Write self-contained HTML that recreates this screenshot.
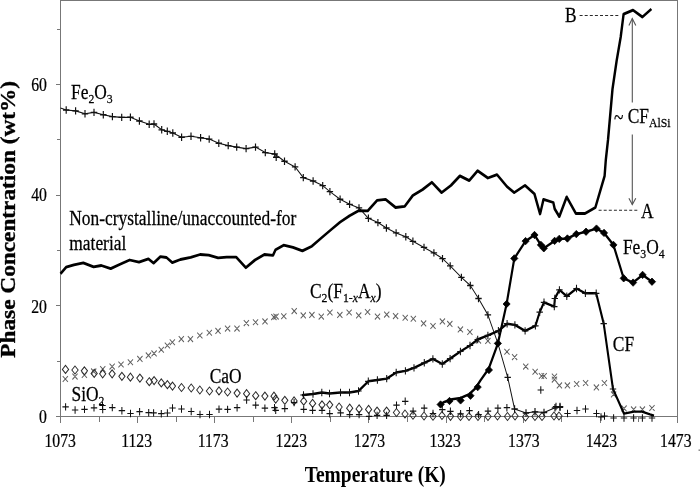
<!DOCTYPE html><html><head><meta charset="utf-8"><title>Phase Concentration vs Temperature</title><style>
html,body{margin:0;padding:0;background:#fff;width:700px;height:488px;overflow:hidden}
svg{display:block;filter:grayscale(1) blur(0.35px)}
text{font-family:"Liberation Serif","Times New Roman",serif;fill:#000}
.t{font-size:18.5px}.l{font-size:20px}.t,.l{stroke:#000;stroke-width:0.25px}.b{font-weight:bold;font-size:22px}
</style></head><body>
<svg width="700" height="488" viewBox="0 0 700 488">
<rect width="700" height="488" fill="#fff"/>
<g stroke="#777" stroke-width="1" fill="none" shape-rendering="crispEdges">
<path d="M60.5 0.5H677.5V416.5H60.5Z"/>
<path d="M56.0 416.5H60.5M57.0 361.5H60.5M56.0 305.5H60.5M57.0 250.5H60.5M56.0 195.5H60.5M57.0 139.5H60.5M56.0 84.5H60.5M57.0 29.5H60.5M60.5 416.5V423.0M99.5 416.5V421.5M137.5 416.5V423.0M176.5 416.5V421.5M214.5 416.5V423.0M253.5 416.5V421.5M291.5 416.5V423.0M330.5 416.5V421.5M368.5 416.5V423.0M407.5 416.5V421.5M446.5 416.5V423.0M484.5 416.5V421.5M523.5 416.5V423.0M561.5 416.5V421.5M600.5 416.5V423.0M638.5 416.5V421.5M677.5 416.5V423.0"/>
</g>
<g transform="scale(0.87,1)">
<path fill="none" stroke="#606060" stroke-width="1.05" d="M72.1 376.1l6.0 5.8M72.1 381.9l6.0 -5.8M83.2 373.7l6.0 5.8M83.2 379.5l6.0 -5.8M94.0 372.1l6.0 5.8M94.0 377.9l6.0 -5.8M104.7 368.5l6.0 5.8M104.7 374.3l6.0 -5.8M115.1 366.2l6.0 5.8M115.1 372.0l6.0 -5.8M125.9 363.7l6.0 5.8M125.9 369.5l6.0 -5.8M136.1 361.6l6.0 5.8M136.1 367.4l6.0 -5.8M146.9 359.4l6.0 5.8M146.9 365.2l6.0 -5.8M157.8 356.0l6.0 5.8M157.8 361.8l6.0 -5.8M167.6 352.5l6.0 5.8M167.6 358.3l6.0 -5.8M174.1 350.5l6.0 5.8M174.1 356.3l6.0 -5.8M182.4 346.9l6.0 5.8M182.4 352.7l6.0 -5.8M189.4 342.6l6.0 5.8M189.4 348.4l6.0 -5.8M195.1 339.4l6.0 5.8M195.1 345.2l6.0 -5.8M205.4 336.2l6.0 5.8M205.4 342.0l6.0 -5.8M215.9 336.2l6.0 5.8M215.9 342.0l6.0 -5.8M226.7 332.6l6.0 5.8M226.7 338.4l6.0 -5.8M237.6 329.9l6.0 5.8M237.6 335.7l6.0 -5.8M247.6 328.0l6.0 5.8M247.6 333.8l6.0 -5.8M258.6 325.7l6.0 5.8M258.6 331.5l6.0 -5.8M269.4 325.7l6.0 5.8M269.4 331.5l6.0 -5.8M280.2 320.2l6.0 5.8M280.2 326.0l6.0 -5.8M290.7 319.4l6.0 5.8M290.7 325.2l6.0 -5.8M301.6 318.5l6.0 5.8M301.6 324.3l6.0 -5.8M311.8 314.2l6.0 5.8M311.8 320.0l6.0 -5.8M314.3 313.7l6.0 5.8M314.3 319.5l6.0 -5.8M323.2 313.4l6.0 5.8M323.2 319.2l6.0 -5.8M335.2 308.2l6.0 5.8M335.2 314.0l6.0 -5.8M345.6 312.5l6.0 5.8M345.6 318.3l6.0 -5.8M355.5 312.0l6.0 5.8M355.5 317.8l6.0 -5.8M366.3 313.7l6.0 5.8M366.3 319.5l6.0 -5.8M376.2 309.6l6.0 5.8M376.2 315.4l6.0 -5.8M387.6 312.0l6.0 5.8M387.6 317.8l6.0 -5.8M398.3 309.6l6.0 5.8M398.3 315.4l6.0 -5.8M409.3 312.5l6.0 5.8M409.3 318.3l6.0 -5.8M419.5 309.1l6.0 5.8M419.5 314.9l6.0 -5.8M430.9 313.7l6.0 5.8M430.9 319.5l6.0 -5.8M441.5 311.7l6.0 5.8M441.5 317.5l6.0 -5.8M451.7 313.2l6.0 5.8M451.7 319.0l6.0 -5.8M462.8 314.9l6.0 5.8M462.8 320.7l6.0 -5.8M472.1 315.9l6.0 5.8M472.1 321.7l6.0 -5.8M483.9 320.5l6.0 5.8M483.9 326.3l6.0 -5.8M494.7 323.1l6.0 5.8M494.7 328.9l6.0 -5.8M505.5 318.5l6.0 5.8M505.5 324.3l6.0 -5.8M514.0 321.0l6.0 5.8M514.0 326.8l6.0 -5.8M526.2 326.5l6.0 5.8M526.2 332.3l6.0 -5.8M537.1 329.1l6.0 5.8M537.1 334.9l6.0 -5.8M546.9 337.7l6.0 5.8M546.9 343.5l6.0 -5.8M557.8 338.0l6.0 5.8M557.8 343.8l6.0 -5.8M579.7 348.8l6.0 5.8M579.7 354.6l6.0 -5.8M588.5 354.2l6.0 5.8M588.5 360.0l6.0 -5.8M601.3 363.7l6.0 5.8M601.3 369.5l6.0 -5.8M612.1 368.8l6.0 5.8M612.1 374.6l6.0 -5.8M619.4 373.1l6.0 5.8M619.4 378.9l6.0 -5.8M622.5 373.1l6.0 5.8M622.5 378.9l6.0 -5.8M634.3 373.6l6.0 5.8M634.3 379.4l6.0 -5.8M634.3 376.7l6.0 5.8M634.3 382.5l6.0 -5.8M640.0 382.5l6.0 5.8M640.0 388.3l6.0 -5.8M649.2 382.5l6.0 5.8M649.2 388.3l6.0 -5.8M659.8 381.1l6.0 5.8M659.8 386.9l6.0 -5.8M670.1 380.1l6.0 5.8M670.1 385.9l6.0 -5.8M682.5 384.5l6.0 5.8M682.5 390.3l6.0 -5.8M691.7 380.1l6.0 5.8M691.7 385.9l6.0 -5.8M702.3 391.5l6.0 5.8M702.3 397.3l6.0 -5.8M714.3 405.5l6.0 5.8M714.3 411.3l6.0 -5.8M725.3 406.5l6.0 5.8M725.3 412.3l6.0 -5.8M735.4 406.5l6.0 5.8M735.4 412.3l6.0 -5.8M746.4 405.1l6.0 5.8M746.4 410.9l6.0 -5.8"/>
<path fill="none" stroke="#2a2a2a" stroke-width="1.1" d="M75.3 365.4L78.9 369.4L75.3 373.4L71.7 369.4ZM86.2 366.0L89.8 370.0L86.2 374.0L82.6 370.0ZM97.0 366.8L100.6 370.8L97.0 374.8L93.4 370.8ZM108.3 369.4L111.8 373.4L108.3 377.4L104.7 373.4ZM118.0 369.8L121.6 373.8L118.0 377.8L114.5 373.8ZM128.9 369.8L132.4 373.8L128.9 377.8L125.3 373.8ZM140.1 372.3L143.7 376.3L140.1 380.3L136.6 376.3ZM149.9 373.2L153.4 377.2L149.9 381.2L146.3 377.2ZM160.8 374.1L164.4 378.1L160.8 382.1L157.2 378.1ZM171.6 377.7L175.2 381.7L171.6 385.7L168.0 381.7ZM177.1 376.6L180.7 380.6L177.1 384.6L173.6 380.6ZM185.4 378.9L189.0 382.9L185.4 386.9L181.8 382.9ZM192.4 380.7L196.0 384.7L192.4 388.7L188.9 384.7ZM198.3 382.1L201.8 386.1L198.3 390.1L194.7 386.1ZM208.6 383.5L212.2 387.5L208.6 391.5L205.1 387.5ZM219.8 384.0L223.3 388.0L219.8 392.0L216.2 388.0ZM229.7 386.0L233.2 390.0L229.7 394.0L226.1 390.0ZM240.8 387.0L244.4 391.0L240.8 395.0L237.2 391.0ZM251.7 386.9L255.3 390.9L251.7 394.9L248.2 390.9ZM261.6 388.0L265.2 392.0L261.6 396.0L258.0 392.0ZM272.5 389.1L276.1 393.1L272.5 397.1L269.0 393.1ZM283.4 389.7L287.0 393.7L283.4 397.7L279.9 393.7ZM293.9 391.7L297.5 395.7L293.9 399.7L290.3 395.7ZM304.5 392.1L308.0 396.1L304.5 400.1L300.9 396.1ZM314.9 392.2L318.5 396.2L314.9 400.2L311.4 396.2ZM316.9 395.1L320.5 399.1L316.9 403.1L313.3 399.1ZM327.4 396.3L330.9 400.3L327.4 404.3L323.8 400.3ZM338.0 396.9L341.6 400.9L338.0 404.9L334.5 400.9ZM349.1 397.2L352.6 401.2L349.1 405.2L345.5 401.2ZM359.3 399.4L362.9 403.4L359.3 407.4L355.7 403.4ZM370.1 400.8L373.7 404.8L370.1 408.8L366.6 404.8ZM379.0 400.8L382.5 404.8L379.0 408.8L375.4 404.8ZM389.8 403.0L393.3 407.0L389.8 411.0L386.2 407.0ZM402.0 404.2L405.5 408.2L402.0 412.2L398.4 408.2ZM412.8 404.9L416.3 408.9L412.8 412.9L409.2 408.9ZM423.7 405.4L427.2 409.4L423.7 413.4L420.1 409.4ZM433.4 407.1L437.0 411.1L433.4 415.1L429.9 411.1ZM444.4 407.1L447.9 411.1L444.4 415.1L440.8 411.1ZM455.7 408.5L459.3 412.5L455.7 416.5L452.2 412.5ZM465.5 410.0L469.1 414.0L465.5 418.0L462.0 414.0ZM474.7 411.3L478.3 415.3L474.7 419.3L471.1 415.3ZM487.4 412.0L490.9 416.0L487.4 420.0L483.8 416.0ZM497.7 412.3L501.3 416.3L497.7 420.3L494.1 416.3ZM508.0 411.5L511.6 415.5L508.0 419.5L504.5 415.5ZM517.8 412.3L521.4 416.3L517.8 420.3L514.3 416.3ZM529.3 412.5L532.9 416.5L529.3 420.5L525.7 416.5ZM539.1 412.5L542.6 416.5L539.1 420.5L535.5 416.5ZM549.4 412.5L553.0 416.5L549.4 420.5L545.9 416.5ZM560.9 412.5L564.5 416.5L560.9 420.5L557.4 416.5ZM571.8 412.0L575.4 416.0L571.8 420.0L568.3 416.0ZM583.3 412.5L586.9 416.5L583.3 420.5L579.8 416.5ZM592.0 412.0L595.5 416.0L592.0 420.0L588.4 416.0ZM604.0 413.0L607.6 417.0L604.0 421.0L600.5 417.0ZM614.9 412.5L618.5 416.5L614.9 420.5L611.4 416.5ZM623.0 412.5L626.6 416.5L623.0 420.5L619.4 416.5ZM636.8 412.0L640.3 416.0L636.8 420.0L633.2 416.0ZM642.5 412.0L646.1 416.0L642.5 420.0L639.0 416.0Z"/>
<path fill="none" stroke="#111" stroke-width="1.2" d="M71.72 406.9h7.36M75.40 403.2v7.4M82.64 410.0h7.36M86.32 406.3v7.4M93.45 409.4h7.36M97.13 405.7v7.4M104.37 407.8h7.36M108.05 404.1v7.4M114.14 405.5h7.36M117.82 401.8v7.4M114.37 409.5h7.36M118.05 405.8v7.4M125.40 407.6h7.36M129.08 403.9v7.4M136.44 410.7h7.36M140.11 407.0v7.4M146.32 413.5h7.36M150.00 409.8v7.4M156.78 411.7h7.36M160.46 408.0v7.4M167.24 412.7h7.36M170.92 409.0v7.4M172.87 412.9h7.36M176.55 409.2v7.4M181.72 413.7h7.36M185.40 410.0v7.4M188.74 413.0h7.36M192.41 409.3v7.4M194.60 408.0h7.36M198.28 404.3v7.4M204.94 409.0h7.36M208.62 405.3v7.4M216.09 411.5h7.36M219.77 407.8v7.4M226.21 414.5h7.36M229.89 410.8v7.4M237.13 414.5h7.36M240.80 410.8v7.4M248.05 409.2h7.36M251.72 405.5v7.4M257.93 409.4h7.36M261.61 405.7v7.4M268.85 407.7h7.36M272.53 404.0v7.4M279.77 400.0h7.36M283.45 396.3v7.4M290.23 405.1h7.36M293.91 401.4v7.4M300.80 408.2h7.36M304.48 404.5v7.4M311.84 407.7h7.36M315.52 404.0v7.4M313.22 410.3h7.36M316.90 406.6v7.4M323.68 408.6h7.36M327.36 404.9v7.4M334.37 402.6h7.36M338.05 398.9v7.4M345.40 409.4h7.36M349.08 405.7v7.4M355.63 410.3h7.36M359.31 406.6v7.4M366.44 410.3h7.36M370.11 406.6v7.4M375.29 413.7h7.36M378.97 410.0v7.4M387.82 412.9h7.36M391.49 409.2v7.4M398.28 414.6h7.36M401.95 410.9v7.4M409.08 414.6h7.36M412.76 410.9v7.4M420.57 416.3h7.36M424.25 412.6v7.4M429.77 415.4h7.36M433.45 411.7v7.4M440.69 415.4h7.36M444.37 411.7v7.4M452.07 405.1h7.36M455.75 401.4v7.4M462.07 401.3h7.36M465.75 397.6v7.4M471.15 411.1h7.36M474.83 407.4v7.4M483.91 408.1h7.36M487.59 404.4v7.4M494.02 413.5h7.36M497.70 409.8v7.4M504.71 409.6h7.36M508.39 405.9v7.4M514.02 411.3h7.36M517.70 407.6v7.4M525.75 413.8h7.36M529.43 410.1v7.4M535.98 410.7h7.36M539.66 407.0v7.4M546.44 414.6h7.36M550.11 410.9v7.4M557.24 411.1h7.36M560.92 407.4v7.4M568.62 408.2h7.36M572.30 404.5v7.4M578.97 407.7h7.36M582.64 404.0v7.4M617.93 390.0h7.36M621.61 386.3v7.4M635.40 406.5h7.36M639.08 402.8v7.4M640.00 406.5h7.36M643.68 402.8v7.4M648.62 413.5h7.36M652.30 409.8v7.4M659.54 410.5h7.36M663.22 406.8v7.4M669.31 409.0h7.36M672.99 405.3v7.4M681.95 413.5h7.36M685.63 409.8v7.4M687.13 417.0h7.36M690.80 413.3v7.4M691.15 416.0h7.36M694.83 412.3v7.4M701.61 418.0h7.36M705.29 414.3v7.4M713.56 418.0h7.36M717.24 414.3v7.4M724.60 418.0h7.36M728.28 414.3v7.4M734.71 418.0h7.36M738.39 414.3v7.4M745.75 418.0h7.36M749.43 414.3v7.4"/>
<polyline fill="none" stroke="#111" stroke-width="1.1" stroke-linejoin="round" points="69.54,108.0 76.09,110.0 86.90,110.9 97.70,113.8 108.05,112.4 118.74,114.7 129.20,116.6 139.89,117.4 149.89,117.2 160.23,121.0 171.49,124.3 177.01,124.0 185.86,129.8 192.30,131.3 198.62,133.0 208.74,137.2 219.54,136.3 230.57,137.7 240.46,139.1 251.49,143.2 262.30,145.6 272.07,147.1 282.87,148.6 293.68,147.1 304.94,152.6 315.75,154.0 327.01,161.2 339.20,166.9 348.62,177.6 359.89,181.0 370.92,185.6 379.20,191.6 390.92,199.2 401.84,204.3 412.64,207.9 423.45,218.3 434.37,222.6 444.14,228.0 455.29,232.9 466.44,236.8 474.60,241.3 487.36,247.4 498.74,252.9 508.62,258.6 517.47,265.9 530.34,277.4 540.57,285.5 550.00,298.5 560.80,314.9 572.30,343.4 583.56,377.4 591.49,409.0 604.60,413.0 614.94,411.8 625.29,412.5 637.93,407.8 643.68,407.2"/>
<path fill="none" stroke="#111" stroke-width="1.35" d="M72.41 110.0h7.36M76.09 106.3v7.4M83.22 110.9h7.36M86.90 107.2v7.4M94.02 113.8h7.36M97.70 110.1v7.4M104.37 112.4h7.36M108.05 108.7v7.4M115.06 114.7h7.36M118.74 111.0v7.4M125.52 116.6h7.36M129.20 112.9v7.4M136.21 117.4h7.36M139.89 113.7v7.4M146.21 117.2h7.36M149.89 113.5v7.4M156.55 121.0h7.36M160.23 117.3v7.4M167.82 124.3h7.36M171.49 120.6v7.4M173.33 124.0h7.36M177.01 120.3v7.4M182.18 129.8h7.36M185.86 126.1v7.4M188.62 131.3h7.36M192.30 127.6v7.4M194.94 133.0h7.36M198.62 129.3v7.4M205.06 137.2h7.36M208.74 133.5v7.4M215.86 136.3h7.36M219.54 132.6v7.4M226.90 137.7h7.36M230.57 134.0v7.4M236.78 139.1h7.36M240.46 135.4v7.4M247.82 143.2h7.36M251.49 139.5v7.4M258.62 145.6h7.36M262.30 141.9v7.4M268.39 147.1h7.36M272.07 143.4v7.4M279.20 148.6h7.36M282.87 144.9v7.4M290.00 147.1h7.36M293.68 143.4v7.4M301.26 152.6h7.36M304.94 148.9v7.4M312.07 154.0h7.36M315.75 150.3v7.4M323.33 161.2h7.36M327.01 157.5v7.4M335.52 166.9h7.36M339.20 163.2v7.4M344.94 177.6h7.36M348.62 173.9v7.4M356.21 181.0h7.36M359.89 177.3v7.4M367.24 185.6h7.36M370.92 181.9v7.4M375.52 191.6h7.36M379.20 187.9v7.4M387.24 199.2h7.36M390.92 195.5v7.4M398.16 204.3h7.36M401.84 200.6v7.4M408.97 207.9h7.36M412.64 204.2v7.4M419.77 218.3h7.36M423.45 214.6v7.4M430.69 222.6h7.36M434.37 218.9v7.4M440.46 228.0h7.36M444.14 224.3v7.4M451.61 232.9h7.36M455.29 229.2v7.4M462.76 236.8h7.36M466.44 233.1v7.4M470.92 241.3h7.36M474.60 237.6v7.4M483.68 247.4h7.36M487.36 243.7v7.4M495.06 252.9h7.36M498.74 249.2v7.4M504.94 258.6h7.36M508.62 254.9v7.4M513.79 265.9h7.36M517.47 262.2v7.4M526.67 277.4h7.36M530.34 273.7v7.4M536.90 285.5h7.36M540.57 281.8v7.4M546.32 298.5h7.36M550.00 294.8v7.4M557.13 314.9h7.36M560.80 311.2v7.4M568.62 343.4h7.36M572.30 339.7v7.4M579.89 377.4h7.36M583.56 373.7v7.4M587.82 409.0h7.36M591.49 405.3v7.4M600.92 413.0h7.36M604.60 409.3v7.4M611.26 411.8h7.36M614.94 408.1v7.4M621.61 412.5h7.36M625.29 408.8v7.4M634.25 407.8h7.36M637.93 404.1v7.4M640.00 407.2h7.36M643.68 403.5v7.4M313.79 157.2h7.36M317.47 153.5v7.4"/>
<polyline fill="none" stroke="#000" stroke-width="2.4" stroke-linejoin="round" points="347.13,395.2 348.85,395.0 359.77,394.0 369.89,392.5 378.74,393.5 391.38,392.5 401.72,392.5 412.07,391.0 423.33,381.3 433.79,380.0 444.48,378.6 455.40,372.5 465.98,370.9 475.86,367.9 487.70,362.8 497.59,358.9 508.39,364.0 517.36,358.6 529.20,351.5 540.23,345.5 549.08,339.5 560.80,335.4 572.87,330.8 582.87,323.7 591.84,324.9 603.56,330.9 615.40,325.9 620.34,312.2 625.29,302.3 637.13,306.6 637.70,298.5 642.99,289.9 651.49,296.3 662.64,288.5 672.87,293.3 685.29,293.3 693.91,323.6 704.60,389.0 717.24,413.6 728.74,411.6 737.93,411.6 747.13,414.4 751.72,415.6"/>
<path fill="none" stroke="#111" stroke-width="1.2" d="M345.17 395.0h7.36M348.85 391.3v7.4M356.09 394.0h7.36M359.77 390.3v7.4M366.21 392.5h7.36M369.89 388.8v7.4M375.06 393.5h7.36M378.74 389.8v7.4M387.70 392.5h7.36M391.38 388.8v7.4M398.05 392.5h7.36M401.72 388.8v7.4M408.39 391.0h7.36M412.07 387.3v7.4M419.66 381.3h7.36M423.33 377.6v7.4M430.11 380.0h7.36M433.79 376.3v7.4M440.80 378.6h7.36M444.48 374.9v7.4M451.72 372.5h7.36M455.40 368.8v7.4M462.30 370.9h7.36M465.98 367.2v7.4M472.18 367.9h7.36M475.86 364.2v7.4M484.02 362.8h7.36M487.70 359.1v7.4M493.91 358.9h7.36M497.59 355.2v7.4M504.71 364.0h7.36M508.39 360.3v7.4M513.68 358.6h7.36M517.36 354.9v7.4M525.52 351.5h7.36M529.20 347.8v7.4M536.55 345.5h7.36M540.23 341.8v7.4M545.40 339.5h7.36M549.08 335.8v7.4M557.13 335.4h7.36M560.80 331.7v7.4M569.20 330.8h7.36M572.87 327.1v7.4M579.20 323.7h7.36M582.87 320.0v7.4M588.16 324.9h7.36M591.84 321.2v7.4M599.89 330.9h7.36M603.56 327.2v7.4M611.72 325.9h7.36M615.40 322.2v7.4M616.67 312.2h7.36M620.34 308.5v7.4M621.61 302.3h7.36M625.29 298.6v7.4M633.45 306.6h7.36M637.13 302.9v7.4M634.02 298.5h7.36M637.70 294.8v7.4M639.31 289.9h7.36M642.99 286.2v7.4M647.82 296.3h7.36M651.49 292.6v7.4M658.97 288.5h7.36M662.64 284.8v7.4M669.20 293.3h7.36M672.87 289.6v7.4M681.61 293.3h7.36M685.29 289.6v7.4M690.23 323.6h7.36M693.91 319.9v7.4M700.92 389.0h7.36M704.60 385.3v7.4"/>
<polyline fill="none" stroke="#000" stroke-width="2.5" stroke-linejoin="round" points="506.09,404.2 509.89,402.3 519.66,399.3 529.54,398.0 539.43,394.1 546.32,388.6 552.18,380.5 561.61,368.9 572.30,343.4 582.30,304.0 591.15,258.4 604.14,241.1 614.37,235.0 621.72,244.9 625.06,248.3 637.47,240.9 642.76,238.9 652.18,238.5 662.41,234.1 673.56,231.7 685.63,228.6 694.25,232.9 705.06,244.9 716.90,278.3 727.70,282.6 738.62,274.9 749.43,281.7"/>
<path fill="#000" stroke="#000" stroke-width="0.8" d="M506.4 400.8L510.6 404.5L506.4 408.2L502.3 404.5ZM516.7 397.3L520.8 401.0L516.7 404.7L512.5 401.0ZM529.4 396.7L533.6 400.4L529.4 404.1L525.3 400.4ZM540.8 392.0L544.9 395.7L540.8 399.4L536.7 395.7ZM549.1 383.4L553.2 387.1L549.1 390.8L544.9 387.1ZM562.0 366.3L566.1 370.0L562.0 373.7L557.8 370.0ZM572.3 339.7L576.4 343.4L572.3 347.1L568.2 343.4ZM582.3 300.3L586.4 304.0L582.3 307.7L578.2 304.0ZM591.1 254.7L595.3 258.4L591.1 262.1L587.0 258.4ZM604.1 237.4L608.3 241.1L604.1 244.8L600.0 241.1ZM614.4 231.3L618.5 235.0L614.4 238.7L610.2 235.0ZM621.7 241.2L625.9 244.9L621.7 248.6L617.6 244.9ZM625.1 244.6L629.2 248.3L625.1 252.0L620.9 248.3ZM637.5 237.2L641.6 240.9L637.5 244.6L633.3 240.9ZM642.8 235.2L646.9 238.9L642.8 242.6L638.6 238.9ZM652.2 234.8L656.3 238.5L652.2 242.2L648.0 238.5ZM662.4 230.4L666.6 234.1L662.4 237.8L658.3 234.1ZM673.6 228.0L677.7 231.7L673.6 235.4L669.4 231.7ZM685.6 224.9L689.8 228.6L685.6 232.3L681.5 228.6ZM694.3 229.2L698.4 232.9L694.3 236.6L690.1 232.9ZM705.1 241.2L709.2 244.9L705.1 248.6L700.9 244.9ZM716.9 274.6L721.0 278.3L716.9 282.0L712.8 278.3ZM727.7 278.9L731.8 282.6L727.7 286.3L723.6 282.6ZM738.6 271.2L742.8 274.9L738.6 278.6L734.5 274.9ZM749.4 278.0L753.6 281.7L749.4 285.4L745.3 281.7Z"/>
<polyline fill="none" stroke="#000" stroke-width="2.8" stroke-linejoin="round" points="69.54,273.7 75.98,267.2 84.94,264.8 95.75,262.9 107.59,266.9 116.44,265.5 127.24,268.6 138.05,264.3 148.97,260.0 159.77,262.1 170.57,258.8 176.55,263.1 184.37,256.6 191.38,257.5 198.05,262.6 207.36,259.5 219.20,257.4 230.00,254.5 239.89,255.2 250.69,257.9 260.57,257.1 271.38,257.1 282.64,267.7 293.10,260.0 303.91,254.5 313.79,255.4 316.78,249.7 325.98,245.2 336.78,247.4 347.59,250.9 358.51,246.2 369.31,238.0 380.11,230.0 390.92,222.1 401.84,215.7 412.64,210.6 422.53,210.9 433.33,200.4 443.22,199.4 454.71,207.5 465.17,206.3 474.48,195.5 485.86,189.5 496.32,182.3 507.59,192.6 518.39,185.4 528.62,175.9 539.43,180.6 548.97,170.8 560.80,178.0 571.26,174.6 582.76,186.6 591.03,192.6 603.45,185.4 614.25,193.8 620.80,214.0 624.71,199.4 635.98,202.5 637.59,208.9 642.87,216.6 651.38,196.9 661.95,213.5 672.41,213.5 684.37,207.4 694.94,176.0 696.32,160.0 698.85,140.0 704.02,89.0 708.74,61.0 713.45,37.0 716.78,14.1 727.59,10.1 738.39,17.0 748.74,9.0"/>
</g>
<g stroke="#2a2a2a" stroke-width="1.15" fill="none">
<path stroke-dasharray="3 2.1" d="M579.6 15.5H619"/>
<path stroke-dasharray="3 2.1" d="M598.6 210.2H638"/>
</g>
<g stroke="#555" stroke-width="1.1" fill="none">
<path d="M632.3 18.5V102.5M632.3 134.5V204.5"/>
<path d="M628.9 25.6L632.3 18.5L635.8 25.6M628.9 198.2L632.3 204.5L635.8 198.2"/>
</g>
<text class="t" text-anchor="end" transform="translate(46.90,423.00) scale(0.85,1)">0</text>
<text class="t" text-anchor="end" transform="translate(46.90,313.20) scale(0.85,1)">20</text>
<text class="t" text-anchor="end" transform="translate(46.90,200.60) scale(0.85,1)">40</text>
<text class="t" text-anchor="end" transform="translate(46.90,90.90) scale(0.85,1)">60</text>
<text class="t" text-anchor="middle" transform="translate(60.20,446.60) scale(0.85,1)">1073</text>
<text class="t" text-anchor="middle" transform="translate(136.60,446.60) scale(0.85,1)">1123</text>
<text class="t" text-anchor="middle" transform="translate(213.10,446.60) scale(0.85,1)">1173</text>
<text class="t" text-anchor="middle" transform="translate(291.30,446.60) scale(0.85,1)">1223</text>
<text class="t" text-anchor="middle" transform="translate(369.50,446.60) scale(0.85,1)">1273</text>
<text class="t" text-anchor="middle" transform="translate(445.10,446.60) scale(0.85,1)">1323</text>
<text class="t" text-anchor="middle" transform="translate(523.80,446.60) scale(0.85,1)">1373</text>
<text class="t" text-anchor="middle" transform="translate(601.40,446.60) scale(0.85,1)">1423</text>
<text class="t" text-anchor="middle" transform="translate(675.80,446.60) scale(0.85,1)">1473</text>
<text class="l" transform="translate(71,99) scale(0.87,1)">Fe<tspan font-size="13.5px" dy="4">2</tspan><tspan dy="-4">O</tspan><tspan font-size="13.5px" dy="4">3</tspan></text>
<text class="l" text-anchor="start" transform="translate(69.30,225.00) scale(0.87,1)">Non-crystalline/unaccounted-for</text>
<text class="l" text-anchor="start" transform="translate(69.30,249.60) scale(0.87,1)">material</text>
<text class="l" transform="translate(310,298.3) scale(0.87,1)">C<tspan font-size="13.5px" dy="4">2</tspan><tspan dy="-4">(F</tspan><tspan font-size="13.5px" dy="4">1-<tspan font-style="italic">x</tspan></tspan><tspan dy="-4">A</tspan><tspan font-size="13.5px" dy="4" font-style="italic">x</tspan><tspan dy="-4">)</tspan></text>
<text class="l" text-anchor="start" transform="translate(209.70,382.50) scale(0.87,1)">CaO</text>
<text class="l" transform="translate(71.5,401.3) scale(0.87,1)">SiO<tspan font-size="13.5px" dy="4">2</tspan></text>
<text class="l" text-anchor="start" transform="translate(565.00,22.10) scale(0.87,1)">B</text>
<text class="l" transform="translate(614,122.9) scale(0.87,1)"><tspan dy="1">~</tspan><tspan dy="-1"> CF</tspan><tspan font-size="13.5px" dy="4">AlSi</tspan></text>
<text class="l" text-anchor="start" transform="translate(641.00,218.40) scale(0.87,1)">A</text>
<text class="l" transform="translate(622.9,253.8) scale(0.87,1)">Fe<tspan font-size="13.5px" dy="4">3</tspan><tspan dy="-4">O</tspan><tspan font-size="13.5px" dy="4">4</tspan></text>
<text class="l" text-anchor="start" transform="translate(612.80,351.20) scale(0.87,1)">CF</text>
<text class="b" text-anchor="middle" style="font-size:23.8px" transform="translate(375.3,482.3) scale(0.818,1)">Temperature (K)</text>
<text class="b" text-anchor="middle" style="font-size:23.3px" stroke="#000" stroke-width="0.35" transform="translate(15,219.3) scale(0.9,1) rotate(-90)">Phase Concentration (wt%)</text>
<rect x="698.6" y="449.4" width="1.2" height="1.6" fill="#777"/>
</svg></body></html>
